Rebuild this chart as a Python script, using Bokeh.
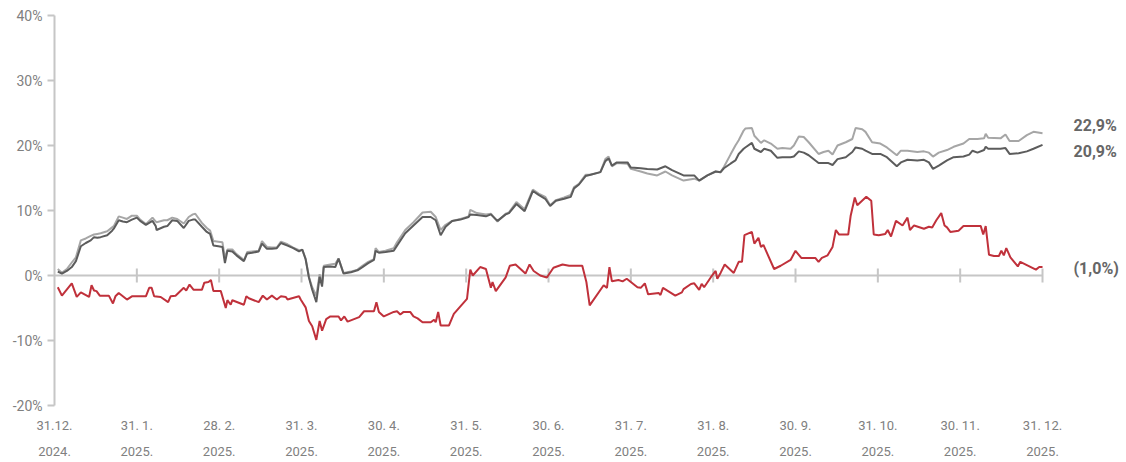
from bokeh.plotting import figure
from bokeh.models import Range1d, FixedTicker, LinearAxis
from bokeh.embed import file_html
from bokeh.resources import INLINE
from bokeh.core.properties import value

# ---------------- data ----------------
# x positions are in months since 31.12.2024 (0 = 31.12.2024, 12 = 31.12.2025)
gray_x = [0.04, 0.09, 0.15, 0.21, 0.26, 0.32, 0.38, 0.44, 0.48, 0.52, 0.56, 0.64, 0.70, 0.72, 0.78,
          0.83, 0.88, 0.94, 1.00, 1.04, 1.11, 1.19, 1.23, 1.24, 1.33, 1.37, 1.43, 1.49, 1.57, 1.63,
          1.68, 1.71, 1.79, 1.85, 1.89, 1.93, 1.99, 2.04, 2.07, 2.10, 2.16, 2.21, 2.28, 2.30, 2.34,
          2.40, 2.48, 2.52, 2.58, 2.64, 2.70, 2.75, 2.83, 2.90, 2.97, 3.01, 3.05, 3.09, 3.13, 3.18,
          3.22, 3.25, 3.27, 3.35, 3.41, 3.45, 3.51, 3.60, 3.68, 3.74, 3.81, 3.88, 3.90, 3.94, 4.02,
          4.12, 4.16, 4.26, 4.36, 4.47, 4.57, 4.63, 4.69, 4.75, 4.83, 4.93, 5.03, 5.05, 5.13, 5.24,
          5.30, 5.38, 5.48, 5.52, 5.61, 5.71, 5.81, 5.88, 5.96, 6.02, 6.09, 6.19, 6.27, 6.31, 6.37,
          6.45, 6.51, 6.63, 6.69, 6.73, 6.77, 6.83, 6.96, 7.00, 7.12, 7.20, 7.32, 7.42, 7.50, 7.64,
          7.77, 7.83, 7.93, 8.03, 8.09, 8.13, 8.21, 8.27, 8.31, 8.37, 8.39, 8.47, 8.50, 8.58, 8.62,
          8.70, 8.78, 8.84, 8.94, 8.98, 9.04, 9.10, 9.16, 9.28, 9.34, 9.40, 9.45, 9.51, 9.61, 9.69,
          9.73, 9.81, 9.85, 9.93, 10.03, 10.11, 10.23, 10.28, 10.36, 10.48, 10.56, 10.62, 10.67, 10.74, 10.84,
          10.92, 11.04, 11.11, 11.15, 11.21, 11.29, 11.31, 11.34, 11.49, 11.55, 11.60, 11.71, 11.81, 11.89, 12.00]

light = [1.0, 0.4, 1.0, 2.0, 2.8, 5.4, 5.7, 6.1, 6.3, 6.4, 6.5, 6.8, 7.4, 7.6, 9.1,
         8.9, 8.7, 9.2, 9.2, 8.6, 7.9, 8.9, 8.3, 8.2, 8.5, 8.5, 8.9, 8.7, 8.0, 9.0,
         9.4, 9.5, 8.1, 7.3, 6.9, 5.3, 5.2, 5.1, 2.6, 4.0, 4.0, 3.3, 2.6, 2.3, 3.6,
         3.7, 3.8, 5.3, 4.4, 4.3, 4.3, 5.2, 4.8, 4.3, 3.9, 3.9, 2.6, -0.2, -1.8, -3.1,
         0.2, -1.3, 1.5, 1.7, 1.8, 2.6, 0.4, 0.6, 0.9, 1.5, 2.1, 2.5, 4.2, 3.6, 3.8,
         4.2, 5.1, 7.0, 8.2, 9.7, 9.8, 9.0, 7.0, 7.8, 8.4, 8.7, 9.1, 10.1, 9.6, 9.4,
         9.5, 8.3, 9.5, 9.7, 11.3, 10.2, 13.2, 12.6, 12.1, 10.8, 11.6, 12.0, 12.4, 13.6, 14.1,
         15.5, 15.5, 15.9, 17.9, 18.3, 16.8, 17.3, 17.2, 16.4, 16.0, 15.7, 15.4, 16.0, 15.4, 14.6,
         14.9, 14.6, 15.4, 16.0, 15.9, 16.7, 18.6, 20.0, 20.8, 22.3, 22.6, 22.7, 21.5, 20.4, 20.8,
         20.3, 19.5, 19.6, 19.5, 20.0, 21.4, 21.3, 20.5, 18.7, 19.0, 19.2, 18.6, 20.0, 20.5, 21.0,
         22.7, 22.5, 22.1, 20.5, 20.3, 19.7, 18.5, 19.2, 19.2, 19.0, 19.1, 18.9, 18.3, 18.9, 19.3,
         19.8, 20.3, 21.0, 21.0, 21.0, 21.1, 21.8, 21.2, 21.1, 21.7, 20.7, 20.7, 21.6, 22.1, 21.9]

dark = [0.6, 0.3, 0.7, 1.3, 2.2, 4.5, 5.0, 5.4, 5.9, 5.8, 5.9, 6.2, 6.9, 7.2, 8.5,
        8.3, 8.2, 8.6, 8.9, 8.4, 7.8, 8.4, 7.6, 7.0, 7.5, 7.6, 8.5, 8.4, 7.3, 8.4,
        8.6, 8.6, 7.5, 6.7, 6.4, 4.6, 4.5, 4.4, 1.9, 3.8, 3.7, 3.1, 2.4, 2.2, 3.4,
        3.5, 3.7, 4.9, 4.1, 4.1, 4.2, 5.0, 4.6, 4.2, 3.7, 4.0, 2.5, -0.3, -2.2, -4.1,
        -0.2, -1.7, 1.3, 1.4, 1.3, 2.6, 0.3, 0.5, 0.8, 1.3, 1.9, 2.4, 3.8, 3.5, 3.6,
        3.8, 4.6, 6.5, 7.7, 9.0, 9.0, 8.5, 6.2, 7.5, 8.4, 8.6, 9.0, 9.4, 9.3, 9.1,
        9.4, 8.4, 9.4, 9.6, 11.0, 9.9, 13.0, 12.4, 11.8, 10.7, 11.5, 11.8, 12.1, 13.4, 14.0,
        15.3, 15.5, 15.9, 17.6, 18.0, 16.9, 17.4, 17.4, 16.6, 16.5, 16.4, 16.3, 16.8, 16.2, 15.4,
        15.4, 14.6, 15.4, 16.0, 15.9, 16.5, 17.2, 17.7, 18.7, 19.5, 19.7, 20.4, 19.5, 19.0, 19.5,
        19.2, 18.1, 18.2, 18.2, 18.3, 19.1, 18.9, 18.5, 17.3, 17.3, 17.3, 17.0, 17.9, 18.2, 19.0,
        19.7, 19.5, 19.2, 18.7, 18.7, 18.2, 16.8, 17.4, 17.8, 17.7, 17.8, 17.4, 16.4, 16.9, 17.7,
        18.2, 18.3, 18.6, 19.2, 18.9, 19.3, 19.8, 19.5, 19.5, 19.6, 18.7, 18.8, 19.1, 19.5, 20.1]

red_x = [0.04, 0.09, 0.21, 0.27, 0.32, 0.42, 0.45, 0.48, 0.51, 0.55, 0.66, 0.71, 0.74, 0.78, 0.88,
         0.94, 1.11, 1.15, 1.18, 1.21, 1.29, 1.38, 1.41, 1.47, 1.57, 1.60, 1.64, 1.69, 1.79, 1.82,
         1.87, 1.90, 1.93, 2.02, 2.08, 2.10, 2.14, 2.16, 2.30, 2.33, 2.36, 2.48, 2.53, 2.58, 2.64,
         2.70, 2.75, 2.81, 2.83, 2.97, 2.99, 3.05, 3.09, 3.13, 3.18, 3.22, 3.25, 3.30, 3.35, 3.45,
         3.48, 3.52, 3.56, 3.70, 3.76, 3.88, 3.91, 3.94, 4.00, 4.12, 4.16, 4.20, 4.24, 4.32, 4.36,
         4.41, 4.47, 4.57, 4.61, 4.63, 4.66, 4.69, 4.79, 4.85, 5.01, 5.05, 5.08, 5.17, 5.24, 5.30,
         5.32, 5.36, 5.48, 5.53, 5.60, 5.72, 5.77, 5.82, 5.90, 5.98, 6.06, 6.17, 6.25, 6.41, 6.46,
         6.50, 6.67, 6.71, 6.74, 6.77, 6.85, 6.90, 6.95, 7.08, 7.12, 7.17, 7.21, 7.34, 7.36, 7.39,
         7.54, 7.62, 7.64, 7.73, 7.77, 7.83, 7.86, 7.89, 7.97, 8.03, 8.05, 8.09, 8.14, 8.25, 8.31,
         8.35, 8.38, 8.47, 8.50, 8.55, 8.58, 8.61, 8.74, 8.82, 8.94, 9.00, 9.07, 9.24, 9.28, 9.32,
         9.39, 9.45, 9.49, 9.53, 9.64, 9.67, 9.72, 9.75, 9.86, 9.92, 9.95, 10.01, 10.09, 10.12, 10.16,
         10.22, 10.30, 10.36, 10.39, 10.44, 10.56, 10.62, 10.66, 10.71, 10.77, 10.81, 10.84, 10.88, 10.98, 11.04,
         11.25, 11.28, 11.31, 11.35, 11.41, 11.47, 11.50, 11.53, 11.56, 11.61, 11.70, 11.73, 11.92, 11.96, 12.00]

red = [-1.8, -3.1, -1.2, -3.3, -2.6, -3.3, -1.5, -2.3, -2.4, -3.1, -3.1, -4.3, -3.2, -2.7, -3.7,
       -3.2, -3.2, -1.9, -1.9, -3.2, -3.3, -4.1, -3.2, -3.1, -1.9, -2.3, -1.4, -2.2, -2.2, -1.1,
       -1.0, -0.7, -2.4, -2.4, -5.0, -3.8, -4.5, -3.8, -4.5, -3.2, -3.5, -4.1, -3.1, -3.7, -3.1,
       -3.7, -3.2, -3.3, -3.7, -3.2, -3.7, -4.9, -7.0, -7.8, -9.9, -7.0, -8.5, -6.7, -6.3, -6.3,
       -6.9, -6.3, -7.1, -6.4, -5.5, -5.5, -4.1, -5.6, -6.3, -5.6, -5.5, -6.0, -5.6, -5.6, -6.3,
       -6.6, -7.2, -7.2, -6.8, -7.2, -5.6, -7.7, -7.7, -5.9, -3.6, 0.9, 0.0, 1.3, 1.0, -1.9,
       -1.0, -2.4, -0.3, 1.5, 1.7, 0.3, 1.7, 0.7, 0.0, -0.3, 1.2, 1.7, 1.5, 1.5, -1.0,
       -4.6, -1.5, -1.9, 1.3, -0.9, -0.7, -0.9, -0.5, -1.8, -1.9, -1.2, -2.9, -2.7, -3.0, -1.9,
       -3.1, -2.6, -2.1, -1.3, -1.2, -2.2, -1.3, -1.8, -0.3, 0.7, -0.5, 0.4, 1.7, 0.4, 2.1,
       2.1, 6.2, 6.7, 4.9, 5.8, 4.4, 4.7, 1.0, 1.5, 2.4, 3.8, 2.7, 2.7, 2.1, 2.7,
       3.1, 4.4, 7.0, 6.3, 6.3, 9.2, 12.0, 10.8, 12.1, 11.5, 6.3, 6.2, 6.4, 7.0, 6.0,
       8.4, 7.7, 8.9, 7.0, 7.7, 7.2, 7.5, 7.4, 8.5, 9.6, 7.7, 7.4, 6.7, 6.9, 7.6,
       7.6, 6.3, 7.6, 3.2, 3.0, 3.0, 3.8, 3.1, 4.2, 2.8, 1.4, 2.1, 0.9, 1.3, 1.3]

end_labels = ["22,9%", "20,9%", "(1,0%)"]

month_ticks = list(range(13))
day_labels = ["31.12.", "31. 1.", "28. 2.", "31. 3.", "30. 4.", "31. 5.", "30. 6.",
              "31. 7.", "31. 8.", "30. 9.", "31. 10.", "30. 11.", "31. 12."]
year_labels = ["2024."] + ["2025."] * 12
y_ticks = [-20, -10, 0, 10, 20, 30, 40]

# ---------------- styles ----------------
FONT = "Roboto"
LIGHT = "#a6a6a6"
DARK = "#5c5c5c"
RED = "#c0313b"
AXIS = "#c6c6c6"
TICK_TXT = "#808080"
LBL_TXT = "#666666"

p = figure(width=1126, height=462, output_backend="svg", toolbar_location=None,
           x_range=Range1d(0, 13.02), y_range=Range1d(-20, 40),
           min_border_left=54, min_border_right=0, min_border_top=15, min_border_bottom=57)
p.outline_line_color = None
p.xgrid.visible = False
p.ygrid.visible = False

# y axis
ya = p.yaxis[0]
ya.ticker = FixedTicker(ticks=y_ticks)
ya.major_label_overrides = {v: f"{v}%" for v in y_ticks}
ya.axis_line_color = AXIS
ya.axis_line_width = 2
ya.major_tick_line_color = AXIS
ya.major_tick_line_width = 2
ya.major_tick_out = 7
ya.major_tick_in = 0
ya.minor_tick_line_color = None
ya.major_label_standoff = 5
ya.major_label_text_font = FONT
ya.major_label_text_font_size = "14px"
ya.major_label_text_color = TICK_TXT

# x axis (date line + year line)
xa = p.xaxis[0]
xa.ticker = FixedTicker(ticks=month_ticks)
xa.major_label_overrides = {i: day_labels[i] for i in month_ticks}
xa.axis_line_color = None
xa.major_tick_line_color = None
xa.minor_tick_line_color = None
xa.major_label_standoff = 6
xa.major_label_text_font = FONT
xa.major_label_text_font_size = "13px"
xa.major_label_text_color = TICK_TXT

xa2 = LinearAxis(ticker=FixedTicker(ticks=month_ticks),
                 major_label_overrides={i: year_labels[i] for i in month_ticks})
xa2.axis_line_color = None
xa2.major_tick_line_color = None
xa2.minor_tick_line_color = None
xa2.major_label_standoff = 5
xa2.major_label_text_font = FONT
xa2.major_label_text_font_size = "13px"
xa2.major_label_text_color = TICK_TXT
p.add_layout(xa2, "below")

# zero line with month ticks
tick_half = 7 / 6.5
p.segment(x0=[month_ticks[0]], x1=[month_ticks[-1]], y0=[0], y1=[0],
          line_color=AXIS, line_width=2)
p.segment(x0=month_ticks[1:], x1=month_ticks[1:],
          y0=[-tick_half] * 12, y1=[tick_half] * 12,
          line_color=AXIS, line_width=2)

# series
p.line(gray_x, light, line_color=LIGHT, line_width=2)
p.line(gray_x, dark, line_color=DARK, line_width=2)
p.line(red_x, red, line_color=RED, line_width=2)

# end labels
ends = [(gray_x[-1], light[-1], -8), (gray_x[-1], dark[-1], 7), (red_x[-1], red[-1], 1)]
for (ex, ey, off), txt in zip(ends, end_labels):
    p.text(x=[ex], y=[ey], text=[txt], x_offset=31, y_offset=off,
           text_font=value(FONT), text_font_size="16px", text_font_style="bold",
           text_color=LBL_TXT, text_align="left", text_baseline="middle")

open("out.html", "w").write(file_html(p, INLINE))
